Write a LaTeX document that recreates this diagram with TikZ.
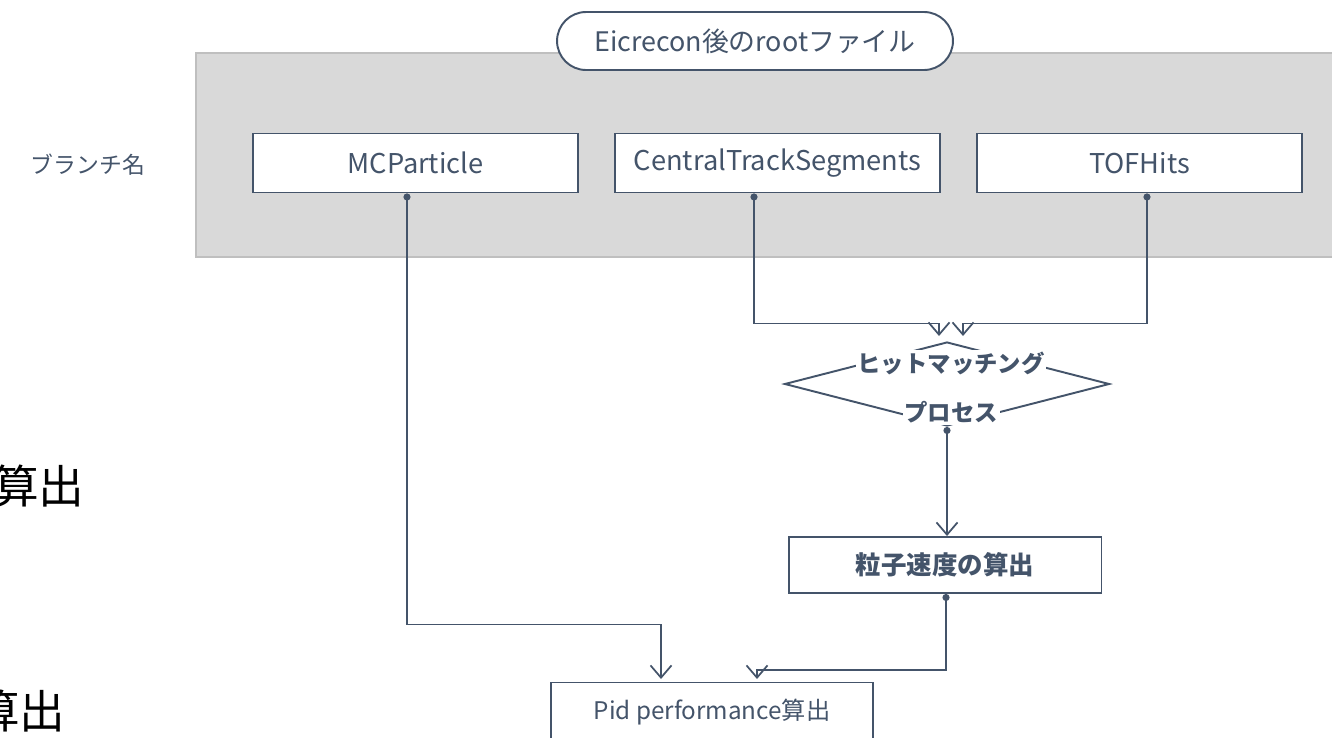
\documentclass[tikz,border=0pt]{standalone}
\usepackage{fontspec}
\setmainfont{Noto Sans CJK JP}
\usetikzlibrary{arrows.meta,shapes.geometric}

\definecolor{slate}{HTML}{44546A}
\definecolor{panelgray}{HTML}{D9D9D9}
\definecolor{panelline}{HTML}{BFBFBF}

\tikzset{
  branch/.style={draw=slate, line width=1.1pt, fill=white, text=slate,
    minimum width=6.5cm, minimum height=1.18cm, inner sep=0pt,
    font=\fontsize{15.5}{18}\selectfont},
  process/.style={branch, font=\bfseries\fontsize{14.5}{17}\selectfont},
  matchtext/.style={fill=white, inner sep=1pt, text=slate,
    font=\bfseries\fontsize{13.3}{16}\selectfont},
  link/.style={draw=slate, line width=1pt,
    {Circle[length=4pt]}-{Straight Barb[length=7pt,width=12pt]}},
}

\begin{document}
\begin{tikzpicture}[x=0.02cm,y=-0.02cm]
\useasboundingbox (0,0) rectangle (1332,737);

%root file panel
\fill[panelgray] (196,53) rectangle (1332,257);
\draw[panelline, line width=1pt] (1332,53) -- (196,53) -- (196,257) -- (1332,257);
\node[draw=slate, line width=1.1pt, fill=white, text=slate, rounded corners=0.58cm,
  minimum width=7.92cm, minimum height=1.16cm, inner sep=0pt,
  font=\fontsize{15.3}{18}\selectfont] (root) at (755,41) {Eicrecon後のrootファイル};
\node[text=slate, font=\fontsize{13}{15}\selectfont] (bname) at (88,165) {ブランチ名};

%branches
\node[branch] (mcp) at (415.5,163) {MCParticle};
\node[branch] (cts) at (777.5,163) {CentralTrackSegments};
\node[branch] (tof) at (1139.5,163) {TOFHits};

%hit matching
\node[diamond, draw=slate, line width=1.1pt, minimum width=6.5cm, minimum height=1.68cm,
  inner sep=0pt] (hm) at (947,384) {};
\node[matchtext] (hm1) at (951,363) {ヒットマッチング};
\node[matchtext] (hm2) at (951,412) {プロセス};

%results
\node[process, minimum width=6.26cm, minimum height=1.12cm] (vel) at (945,565) {粒子速度の算出};
\node[branch, minimum width=6.44cm, font=\fontsize{13.8}{16}\selectfont] (pid) at (712,712) {Pid performance算出};

\coordinate (inL) at (939,336);
\coordinate (inR) at (963,336);
\coordinate (inA) at (661,679);
\coordinate (inB) at (757,679);

\draw[link] ([xshift=-0.47cm]cts.south) -- ++(0,130) -| (inL);
\draw[link] ([xshift=0.15cm]tof.south) -- ++(0,130) -| (inR);
\draw[link] ([xshift=-0.17cm]mcp.south) -- ++(0,431) -| (inA);
\draw[link] (hm.south) -- (hm.south |- vel.north);
\draw[link] ([xshift=0.02cm]vel.south) -- ++(0,76) -| (inB);

%cut-off text on the left
\begin{scope}
\clip (0,0) rectangle (1332,737);
\node[anchor=east, inner sep=0pt, font=\fontsize{26}{30}\selectfont] (calcA) at (85,486) {算出};
\node[anchor=east, inner sep=0pt, font=\fontsize{26}{30}\selectfont] (calcB) at (66,711) {算出};
\end{scope}

\end{tikzpicture}
\end{document}
